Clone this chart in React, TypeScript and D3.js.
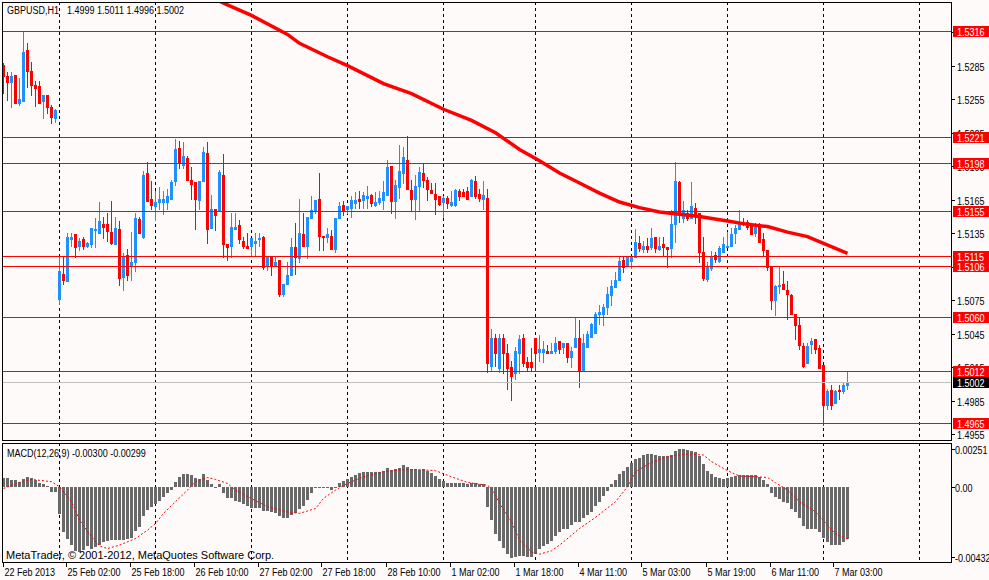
import React, { useEffect, useRef } from "react";
import * as d3 from "d3";

// ---------- Data: GBPUSD H1, 22 Feb 2013 .. 7 Mar 2013 ----------
// one row per hourly bar: [open, high, low, close]
const bars: [number, number, number, number][] = [
  [1.5286, 1.5287, 1.5261, 1.5276], [1.5276, 1.5279, 1.5254, 1.527], [1.527, 1.5279, 1.5248, 1.5276],
  [1.5277, 1.5277, 1.5252, 1.5252], [1.5252, 1.5274, 1.525, 1.5255], [1.5253, 1.5316, 1.5253, 1.5297],
  [1.5299, 1.5305, 1.5266, 1.528], [1.528, 1.5288, 1.5259, 1.5268], [1.5268, 1.5271, 1.5249, 1.5265],
  [1.5267, 1.5271, 1.5252, 1.5252], [1.5253, 1.5259, 1.5238, 1.5259], [1.5259, 1.5259, 1.5243, 1.5248],
  [1.5248, 1.525, 1.5234, 1.5239], [1.5238, 1.5246, 1.5235, 1.5245], [1.5076, 1.5115, 1.5072, 1.5101],
  [1.5099, 1.5115, 1.509, 1.5093], [1.5092, 1.5135, 1.5092, 1.5132], [1.513, 1.5135, 1.5124, 1.5132],
  [1.5134, 1.5134, 1.5114, 1.5123], [1.5124, 1.5131, 1.512, 1.5128], [1.513, 1.5132, 1.5121, 1.5124],
  [1.5124, 1.5127, 1.5123, 1.5126], [1.5125, 1.514, 1.5123, 1.514], [1.5138, 1.5149, 1.5123, 1.5139],
  [1.5135, 1.5163, 1.5135, 1.5146], [1.5143, 1.515, 1.5131, 1.5141], [1.5143, 1.5153, 1.5128, 1.5137],
  [1.5136, 1.5164, 1.5125, 1.5126], [1.5125, 1.515, 1.5125, 1.514], [1.5139, 1.5146, 1.5089, 1.5095],
  [1.5096, 1.5117, 1.5084, 1.5115], [1.5116, 1.5121, 1.5093, 1.5098], [1.5107, 1.5136, 1.5093, 1.5109],
  [1.5109, 1.5153, 1.5101, 1.5149], [1.5148, 1.515, 1.5135, 1.5135], [1.5132, 1.5191, 1.5131, 1.5187],
  [1.5189, 1.5199, 1.5164, 1.5164], [1.5166, 1.5182, 1.5157, 1.516], [1.5159, 1.5173, 1.5147, 1.5163],
  [1.5163, 1.5176, 1.5157, 1.5166], [1.5163, 1.5173, 1.5152, 1.5166], [1.5163, 1.5175, 1.5157, 1.5168],
  [1.5166, 1.5183, 1.5166, 1.5181], [1.5182, 1.5219, 1.5178, 1.521], [1.5211, 1.5218, 1.5193, 1.5198],
  [1.5196, 1.5217, 1.5193, 1.5204], [1.5202, 1.5204, 1.5183, 1.5183], [1.5183, 1.5194, 1.5166, 1.5179],
  [1.5181, 1.5181, 1.5139, 1.5166], [1.5165, 1.5182, 1.5157, 1.5182], [1.5182, 1.5212, 1.5182, 1.5208],
  [1.5207, 1.5217, 1.5126, 1.5139], [1.514, 1.5169, 1.514, 1.5157], [1.5157, 1.5157, 1.5138, 1.5151],
  [1.5155, 1.5192, 1.5155, 1.519], [1.5187, 1.5206, 1.5114, 1.5125], [1.5125, 1.5125, 1.5111, 1.5123],
  [1.5124, 1.5153, 1.5114, 1.5141], [1.5139, 1.5153, 1.5139, 1.5141], [1.5142, 1.5147, 1.5126, 1.513],
  [1.5128, 1.5132, 1.5122, 1.5124], [1.5124, 1.5135, 1.5122, 1.5122], [1.5124, 1.5131, 1.5115, 1.5131],
  [1.5126, 1.5135, 1.5115, 1.5128], [1.513, 1.5135, 1.5124, 1.5131], [1.5132, 1.5133, 1.5103, 1.5105],
  [1.5106, 1.5115, 1.5102, 1.5115], [1.5115, 1.5115, 1.5098, 1.5106], [1.5107, 1.5115, 1.5107, 1.5109],
  [1.5111, 1.5111, 1.5079, 1.5081], [1.5081, 1.509, 1.5079, 1.509], [1.509, 1.5109, 1.509, 1.5098],
  [1.5098, 1.5131, 1.5098, 1.5123], [1.5123, 1.5144, 1.5099, 1.5114], [1.5113, 1.5166, 1.5109, 1.5135],
  [1.5134, 1.5153, 1.5124, 1.5124], [1.5124, 1.515, 1.5113, 1.515], [1.5149, 1.5168, 1.5149, 1.5156],
  [1.5156, 1.5165, 1.5153, 1.5165], [1.5166, 1.5189, 1.512, 1.5133], [1.5133, 1.5133, 1.512, 1.5132],
  [1.5132, 1.514, 1.5127, 1.5134], [1.5133, 1.5138, 1.5121, 1.5121], [1.5121, 1.5149, 1.5118, 1.5149],
  [1.5149, 1.5163, 1.5149, 1.5159], [1.516, 1.5164, 1.5151, 1.5156], [1.5157, 1.5159, 1.5153, 1.5159],
  [1.5158, 1.5168, 1.515, 1.5165], [1.5162, 1.5172, 1.5158, 1.5165], [1.5166, 1.5173, 1.5158, 1.5164],
  [1.5165, 1.5172, 1.5158, 1.5169], [1.5167, 1.5177, 1.5158, 1.5168], [1.5169, 1.517, 1.5159, 1.5162],
  [1.516, 1.5172, 1.5159, 1.5163], [1.5163, 1.5173, 1.5161, 1.5167], [1.5165, 1.5182, 1.5157, 1.5172],
  [1.5169, 1.5201, 1.5169, 1.5194], [1.5195, 1.5195, 1.5153, 1.5164], [1.5164, 1.5183, 1.5149, 1.5178],
  [1.5176, 1.5214, 1.5167, 1.5191], [1.5189, 1.5212, 1.518, 1.5203], [1.5201, 1.5222, 1.5175, 1.5175],
  [1.5174, 1.5183, 1.5156, 1.5166], [1.5166, 1.5187, 1.5148, 1.5177], [1.5177, 1.5194, 1.5156, 1.519],
  [1.5189, 1.5198, 1.5176, 1.5183], [1.5183, 1.5185, 1.5165, 1.5175], [1.5174, 1.518, 1.5171, 1.5171],
  [1.517, 1.518, 1.5152, 1.5166], [1.5168, 1.5168, 1.516, 1.5161], [1.5163, 1.5168, 1.515, 1.5167],
  [1.5167, 1.5168, 1.5158, 1.5162], [1.516, 1.5173, 1.5159, 1.5163], [1.516, 1.5175, 1.5159, 1.5174],
  [1.5173, 1.5175, 1.5165, 1.5168], [1.5172, 1.5175, 1.5168, 1.5168], [1.5173, 1.5176, 1.5166, 1.5166],
  [1.5168, 1.5184, 1.5168, 1.5183], [1.5182, 1.5186, 1.5167, 1.5168], [1.517, 1.5175, 1.5164, 1.5167],
  [1.5166, 1.5182, 1.5157, 1.5169], [1.5167, 1.5175, 1.5011, 1.5019], [1.5016, 1.5049, 1.5012, 1.5041],
  [1.5041, 1.5045, 1.5016, 1.5028], [1.5014, 1.5045, 1.5011, 1.5041], [1.5041, 1.5045, 1.501, 1.5028],
  [1.5028, 1.5036, 1.4996, 1.5014], [1.5015, 1.5021, 1.4986, 1.5007], [1.501, 1.5033, 1.5005, 1.503],
  [1.5028, 1.5044, 1.501, 1.504], [1.5041, 1.5045, 1.5016, 1.5019], [1.502, 1.5024, 1.5012, 1.5015],
  [1.502, 1.5032, 1.5012, 1.5015], [1.5041, 1.5041, 1.5012, 1.5028], [1.5029, 1.5044, 1.5021, 1.5031],
  [1.5029, 1.5039, 1.502, 1.5031], [1.503, 1.5035, 1.5028, 1.5028], [1.5028, 1.5037, 1.5028, 1.503],
  [1.503, 1.5042, 1.5028, 1.5037], [1.5039, 1.5039, 1.5028, 1.5031], [1.5033, 1.5037, 1.5028, 1.5037],
  [1.5037, 1.5037, 1.502, 1.5024], [1.5024, 1.5033, 1.5015, 1.503], [1.5033, 1.506, 1.5033, 1.5041],
  [1.5041, 1.5057, 1.4997, 1.5013], [1.5012, 1.5045, 1.5012, 1.5037], [1.5033, 1.5048, 1.5033, 1.5045],
  [1.5042, 1.5055, 1.5042, 1.5054], [1.5046, 1.5065, 1.5046, 1.5063], [1.5063, 1.5071, 1.5054, 1.5065],
  [1.5063, 1.5072, 1.5053, 1.5069], [1.5069, 1.5087, 1.5063, 1.5081], [1.508, 1.5093, 1.5071, 1.5088],
  [1.5087, 1.51, 1.5087, 1.5093], [1.5093, 1.5115, 1.5093, 1.511], [1.5111, 1.5115, 1.51, 1.5105],
  [1.5106, 1.5115, 1.5106, 1.5114], [1.511, 1.5114, 1.5104, 1.5114], [1.5114, 1.5139, 1.5114, 1.5127],
  [1.5126, 1.5133, 1.5119, 1.5122], [1.5121, 1.5128, 1.5118, 1.5124], [1.5124, 1.5131, 1.5118, 1.5121],
  [1.5123, 1.514, 1.5121, 1.5131], [1.5132, 1.5132, 1.5118, 1.5122], [1.5121, 1.5132, 1.512, 1.5124],
  [1.5125, 1.5132, 1.5115, 1.5123], [1.5123, 1.5123, 1.5105, 1.5121], [1.5122, 1.5156, 1.5114, 1.5143],
  [1.5143, 1.5199, 1.5127, 1.5182], [1.5181, 1.5182, 1.5145, 1.5154], [1.5149, 1.5164, 1.5145, 1.5156],
  [1.5153, 1.5156, 1.5147, 1.5149], [1.5149, 1.5181, 1.5149, 1.5159], [1.5158, 1.5162, 1.5144, 1.5151],
  [1.5153, 1.5153, 1.5109, 1.5118], [1.5118, 1.5132, 1.5093, 1.5095], [1.5094, 1.5109, 1.5092, 1.5105],
  [1.5104, 1.5119, 1.5102, 1.5115], [1.5116, 1.5118, 1.5109, 1.5112], [1.511, 1.5124, 1.5109, 1.5122],
  [1.5118, 1.5132, 1.5118, 1.5125], [1.5123, 1.5136, 1.5123, 1.5124], [1.5124, 1.514, 1.5124, 1.5134],
  [1.5135, 1.5142, 1.5126, 1.514], [1.5139, 1.5156, 1.5139, 1.5145], [1.5145, 1.5149, 1.5142, 1.5143],
  [1.5145, 1.5147, 1.5139, 1.5141], [1.5142, 1.5144, 1.5134, 1.5134], [1.5135, 1.5144, 1.5133, 1.5141],
  [1.5143, 1.5144, 1.5127, 1.5127], [1.513, 1.5135, 1.5116, 1.512], [1.512, 1.512, 1.5102, 1.5105],
  [1.5106, 1.5106, 1.5067, 1.5075], [1.5075, 1.5089, 1.5062, 1.5088], [1.5088, 1.5106, 1.5082, 1.5089],
  [1.509, 1.5101, 1.5085, 1.5085], [1.5084, 1.5092, 1.5058, 1.5081], [1.508, 1.5081, 1.5063, 1.5063],
  [1.5063, 1.5063, 1.504, 1.5053], [1.5053, 1.5059, 1.5031, 1.5035], [1.5034, 1.5037, 1.5015, 1.5016],
  [1.5019, 1.5037, 1.5019, 1.5034], [1.5036, 1.5041, 1.5028, 1.5039], [1.504, 1.504, 1.5028, 1.5031],
  [1.5032, 1.5035, 1.5014, 1.5014], [1.5017, 1.5017, 1.4963, 1.4981], [1.4981, 1.4996, 1.4978, 1.4994],
  [1.4995, 1.4999, 1.4978, 1.4981], [1.4983, 1.4995, 1.4983, 1.4994], [1.4995, 1.4999, 1.4987, 1.4994],
  [1.4994, 1.5001, 1.4992, 1.4999], [1.4999, 1.5011, 1.4996, 1.5002],
];

// thick red moving average, read at these bar indexes
const maBars = [50, 55, 62, 71, 74, 81, 86, 95, 102, 110, 117, 123, 129, 134, 139, 144, 149, 154, 159, 164, 169, 174, 181, 186, 191, 196, 201, 205, 211];
const maValues = [1.535, 1.5341, 1.533, 1.5313, 1.5305, 1.5293, 1.5285, 1.5269, 1.526, 1.5246, 1.5236, 1.5225, 1.521, 1.52, 1.5189, 1.518, 1.5171, 1.5163, 1.5158, 1.5154, 1.5152, 1.515, 1.5146, 1.5143, 1.5141, 1.5136, 1.5132, 1.5126, 1.5117];

// MACD(12,26,9) main line, one value per bar (drawn as histogram)
const macdMain = [
  0.00052, 0.00052, 0.00038, 0.00038, 0.00025, 0.00042, 0.00053, 0.00048, 0.00038, 0.00023,
  0.00013, 0.00002, -0.00029, -0.00033, -0.00157, -0.00259, -0.00301, -0.00335, -0.0037, -0.00374,
  -0.00364, -0.00341, -0.00355, -0.00345, -0.00332, -0.0032, -0.0031, -0.00306, -0.00306, -0.00306,
  -0.00303, -0.00301, -0.00297, -0.00253, -0.0023, -0.00168, -0.00134, -0.00119, -0.00099, -0.0008,
  -0.00057, -0.00038, -0.00019, 0.00029, 0.00053, 0.00073, 0.00073, 0.00067, 0.00052, 0.00042,
  0.00073, 0.00038, 0.00016, -0.00004, 0.00016, -0.00034, -0.00067, -0.00067, -0.0008, -0.00086,
  -0.00099, -0.00111, -0.00121, -0.00121, -0.00121, -0.0014, -0.0014, -0.00144, -0.00149, -0.00168,
  -0.00182, -0.00178, -0.00163, -0.00148, -0.0013, -0.00111, -0.00076, -0.00038, -0.00006, -0.0001,
  -0.00006, -0.0001, -0.00019, -0.00006, 0.00023, 0.00033, 0.00042, 0.00053, 0.00067, 0.00076,
  0.00082, 0.00086, 0.00086, 0.00086, 0.00086, 0.00092, 0.00109, 0.00096, 0.00099, 0.00105,
  0.00125, 0.00111, 0.00099, 0.00099, 0.00096, 0.00099, 0.0009, 0.00076, 0.00063, 0.00042,
  0.00034, 0.00023, 0.00019, 0.00019, 0.00019, 0.00019, 0.00016, 0.00023, 0.00019, 0.00016,
  0.00013, -0.00115, -0.00191, -0.0027, -0.0031, -0.00349, -0.00387, -0.00408, -0.00406, -0.00398,
  -0.00398, -0.00402, -0.00402, -0.00387, -0.0036, -0.00341, -0.00326, -0.0031, -0.00283, -0.00259,
  -0.00243, -0.0024, -0.0022, -0.00201, -0.00201, -0.00182, -0.00163, -0.00144, -0.00111, -0.00086,
  -0.00052, -0.00025, 0.00013, 0.00038, 0.00073, 0.00092, 0.00111, 0.00134, 0.00157, 0.00167,
  0.0018, 0.00186, 0.00188, 0.00182, 0.00178, 0.00178, 0.00178, 0.00182, 0.00207, 0.00217,
  0.00217, 0.00211, 0.00207, 0.00201, 0.00176, 0.0013, 0.0009, 0.00071, 0.00053, 0.00048,
  0.00044, 0.00052, 0.00057, 0.00063, 0.00067, 0.00067, 0.00067, 0.00067, 0.00067, 0.00057,
  0.00038, 0.00016, -0.00034, -0.00057, -0.00071, -0.00086, -0.00096, -0.00128, -0.00144, -0.00182,
  -0.00226, -0.0024, -0.00243, -0.00245, -0.00259, -0.00297, -0.00316, -0.00332, -0.00332, -0.00332,
  -0.0032, -0.003,
];

// MACD signal line (red dotted), read at these bar indexes
const signalBars = [0, 4, 7, 12, 14, 17, 19, 22, 24, 26, 29, 33, 36, 38, 40, 43, 46, 48, 51, 53, 56, 58, 63, 66, 71, 74, 78, 80, 83, 86, 90, 95, 99, 104, 108, 112, 116, 119, 121, 122, 123, 124, 127, 129, 132, 134, 137, 139, 144, 148, 153, 156, 158, 162, 166, 171, 175, 177, 181, 184, 188, 191, 193, 196, 199, 203, 206, 208, 211];
const signalValues = [-0.0001, 0.00025, 0.00042, 0.00029, 0, -0.00086, -0.00191, -0.00287, -0.0034, -0.00355, -0.00335, -0.00297, -0.00249, -0.00211, -0.00153, -0.00086, -0.00019, 0.00029, 0.00053, 0.00042, 0.00019, -0.00019, -0.0008, -0.00115, -0.00144, -0.00153, -0.00125, -0.00067, -0.00019, 0.00019, 0.00057, 0.00086, 0.00096, 0.00099, 0.00092, 0.00057, 0.00025, 0.00015, 0.00008, -0.0001, -0.0005, -0.00096, -0.00201, -0.00306, -0.00374, -0.00387, -0.00368, -0.00335, -0.0024, -0.00176, -0.00086, 0, 0.00086, 0.0014, 0.00172, 0.00188, 0.00182, 0.00144, 0.00092, 0.00061, 0.00057, 0.00053, 0.00023, -0.00019, -0.00086, -0.00144, -0.0022, -0.00272, -0.00299];

const levelPrices = [1.5316, 1.5221, 1.5198, 1.5155, 1.5115, 1.5106, 1.506, 1.5012, 1.4965];
const bidPrice = 1.5002;
const priceTicks = [1.5315, 1.5285, 1.5255, 1.5225, 1.5195, 1.5165, 1.5135, 1.5105, 1.5075, 1.5045, 1.5015, 1.4985, 1.4955];
const macdTicks = [0.00251, 0, -0.00432];
const macdTickLabels = ["0.00251", "0.00", "-0.00432"];

const dayStartBars = [14, 38, 62, 86, 110, 133, 157, 181, 205, 229];
const timeLabelBars = [0, 16, 32, 48, 64, 80, 96, 112, 128, 144, 160, 176, 192, 208];
const timeLabels = [
  "22 Feb 2013", "25 Feb 02:00", "25 Feb 18:00", "26 Feb 10:00", "27 Feb 02:00", "27 Feb 18:00", "28 Feb 10:00",
  "1 Mar 02:00", "1 Mar 18:00", "4 Mar 11:00", "5 Mar 03:00", "5 Mar 19:00", "6 Mar 11:00", "7 Mar 03:00",
];

const W = 989;
const H = 580;
const BG = "#FFFAFA";
const BULL = "#1E90FF";
const BEAR = "#FF0000";
const FONT = "'Liberation Sans', Arial, sans-serif";

const App: React.FC = () => {
  const svgRef = useRef<SVGSVGElement | null>(null);

  useEffect(() => {
    document.body.style.margin = "0";
    const svg = d3.select(svgRef.current);
    svg.selectAll("*").remove();

    const main = { left: 2, right: 951, top: 2, bottom: 440 };
    const sub = { top: 443, bottom: 562 };

    // ---------- Scales ----------
    const x = d3.scaleLinear().domain([0, 236]).range([3.5, 947.5]);
    const y = d3.scaleLinear().domain([1.495, 1.5342]).range([main.bottom, main.top]);
    const ym = d3.scaleLinear().domain([-0.00432, 0.00251]).range([sub.bottom, sub.top]);
    const fmt = d3.format(".4f");

    svg.append("rect").attr("width", W).attr("height", H).attr("fill", BG);
    svg
      .append("defs")
      .append("clipPath")
      .attr("id", "main-clip")
      .append("rect")
      .attr("x", main.left)
      .attr("y", main.top)
      .attr("width", main.right - main.left)
      .attr("height", main.bottom - main.top);

    // ---------- Grid ----------
    const grid = svg
      .append("g")
      .attr("stroke", "#000")
      .attr("stroke-dasharray", "3,3")
      .attr("shape-rendering", "crispEdges");
    dayStartBars.forEach((b) => {
      const gx = Math.floor(x(b)) + 0.5;
      grid.append("line").attr("x1", gx).attr("x2", gx).attr("y1", main.top).attr("y2", main.bottom);
      grid.append("line").attr("x1", gx).attr("x2", gx).attr("y1", sub.top).attr("y2", sub.bottom);
    });

    // ---------- Candles ----------
    const cg = svg.append("g").attr("shape-rendering", "crispEdges");
    bars.forEach(([o, h, l, c], i) => {
      const cx = x(i);
      const col = c > o ? BULL : BEAR;
      const yh = Math.round(y(h));
      const yl = Math.round(y(l));
      cg.append("rect")
        .attr("x", cx - 0.5)
        .attr("y", yh)
        .attr("width", 1)
        .attr("height", Math.max(1, yl - yh + 1))
        .attr("fill", col);
      const yt = Math.round(y(Math.max(o, c)));
      const yb = Math.round(y(Math.min(o, c)));
      cg.append("rect")
        .attr("x", cx - 1.5)
        .attr("y", yt)
        .attr("width", 3)
        .attr("height", Math.max(1, yb - yt + 1))
        .attr("fill", col);
    });

    // ---------- Moving average ----------
    const maLine = d3
      .line<number>()
      .x((b) => x(b))
      .y((_, i) => y(maValues[i]));
    svg
      .append("path")
      .datum(maBars)
      .attr("clip-path", "url(#main-clip)")
      .attr("fill", "none")
      .attr("stroke", BEAR)
      .attr("stroke-width", 3.5)
      .attr("d", maLine);

    // ---------- Horizontal levels ----------
    const lv = svg.append("g").attr("shape-rendering", "crispEdges");
    lv.append("line")
      .attr("x1", main.left)
      .attr("x2", main.right)
      .attr("y1", Math.round(y(bidPrice)) + 0.5)
      .attr("y2", Math.round(y(bidPrice)) + 0.5)
      .attr("stroke", "#C0C0C0");
    levelPrices.forEach((p) => {
      const ly = Math.round(y(p)) + 0.5;
      lv.append("line").attr("x1", main.left).attr("x2", main.right).attr("y1", ly).attr("y2", ly).attr("stroke", BEAR);
    });

    // ---------- MACD ----------
    const mg = svg.append("g").attr("shape-rendering", "crispEdges");
    const y0 = Math.round(ym(0));
    macdMain.forEach((v, i) => {
      const yv = Math.round(ym(v));
      mg.append("rect")
        .attr("x", x(i) - 1.5)
        .attr("y", Math.min(yv, y0))
        .attr("width", 3)
        .attr("height", Math.max(1, Math.abs(yv - y0)))
        .attr("fill", "#696969");
    });
    const sigLine = d3
      .line<number>()
      .x((b) => x(b))
      .y((_, i) => ym(signalValues[i]));
    svg
      .append("path")
      .datum(signalBars)
      .attr("fill", "none")
      .attr("stroke", BEAR)
      .attr("stroke-width", 1)
      .attr("stroke-dasharray", "2,2")
      .attr("d", sigLine);

    // ---------- Frames ----------
    const fr = svg.append("g").attr("fill", "none").attr("stroke", "#000").attr("shape-rendering", "crispEdges");
    fr.append("rect")
      .attr("x", main.left + 0.5)
      .attr("y", main.top + 0.5)
      .attr("width", main.right - main.left)
      .attr("height", main.bottom - main.top);
    fr.append("rect")
      .attr("x", main.left + 0.5)
      .attr("y", sub.top + 0.5)
      .attr("width", main.right - main.left)
      .attr("height", sub.bottom - sub.top);

    // ---------- Text helper (narrow look of the terminal font) ----------
    const ax = svg.append("g").attr("font-family", FONT).attr("font-size", 11);
    const label = (tx: number, ty: number, str: string, fill = "#000") =>
      ax
        .append("text")
        .attr("transform", `translate(${tx},${ty}) scale(0.82,1)`)
        .attr("fill", fill)
        .text(str);

    // ---------- Price axis ----------
    priceTicks.forEach((p) => {
      const ty = Math.round(y(p)) + 0.5;
      ax.append("line").attr("x1", main.right).attr("x2", main.right + 4).attr("y1", ty).attr("y2", ty).attr("stroke", "#000").attr("shape-rendering", "crispEdges");
      label(957, ty + 4, fmt(p));
    });
    macdTicks.forEach((v, i) => {
      let ty = Math.round(ym(v)) + 0.5;
      if (i === 0) ty += 6;
      if (i === macdTicks.length - 1) ty -= 5;
      ax.append("line").attr("x1", main.right).attr("x2", main.right + 4).attr("y1", ty).attr("y2", ty).attr("stroke", "#000").attr("shape-rendering", "crispEdges");
      label(955, ty + 4, macdTickLabels[i]);
    });
    const tag = (p: number, fill: string) => {
      const ty = Math.round(y(p)) + 0.5;
      ax.append("rect").attr("x", 953).attr("y", ty - 5.5).attr("width", 36).attr("height", 11).attr("fill", fill).attr("shape-rendering", "crispEdges");
      label(957, ty + 4, fmt(p), "#fff");
    };
    levelPrices.forEach((p) => tag(p, BEAR));
    tag(bidPrice, "#000");

    // ---------- Time axis ----------
    timeLabelBars.forEach((b, i) => {
      const tx = Math.max(3, Math.round(x(b) - 2)) + 0.5;
      ax.append("line").attr("x1", tx).attr("x2", tx).attr("y1", sub.bottom + 1).attr("y2", sub.bottom + 5).attr("stroke", "#000").attr("shape-rendering", "crispEdges");
      label(tx + 1, 576, timeLabels[i]);
    });

    // ---------- Titles ----------
    const last = bars[bars.length - 1];
    label(7, 14, "GBPUSD,H1");
    label(67, 14, last.map((v) => fmt(v)).join(" "));
    label(
      7,
      457,
      `MACD(12,26,9) ${macdMain[macdMain.length - 1].toFixed(5)} ${signalValues[signalValues.length - 1].toFixed(5)}`
    );
    svg
      .append("text")
      .attr("x", 6)
      .attr("y", 559)
      .attr("font-family", FONT)
      .attr("font-size", 11)
      .text("MetaTrader, \u00a9 2001-2012, MetaQuotes Software Corp.");
  }, []);

  return <svg ref={svgRef} width={W} height={H} style={{ display: "block" }} />;
};

export default App;
